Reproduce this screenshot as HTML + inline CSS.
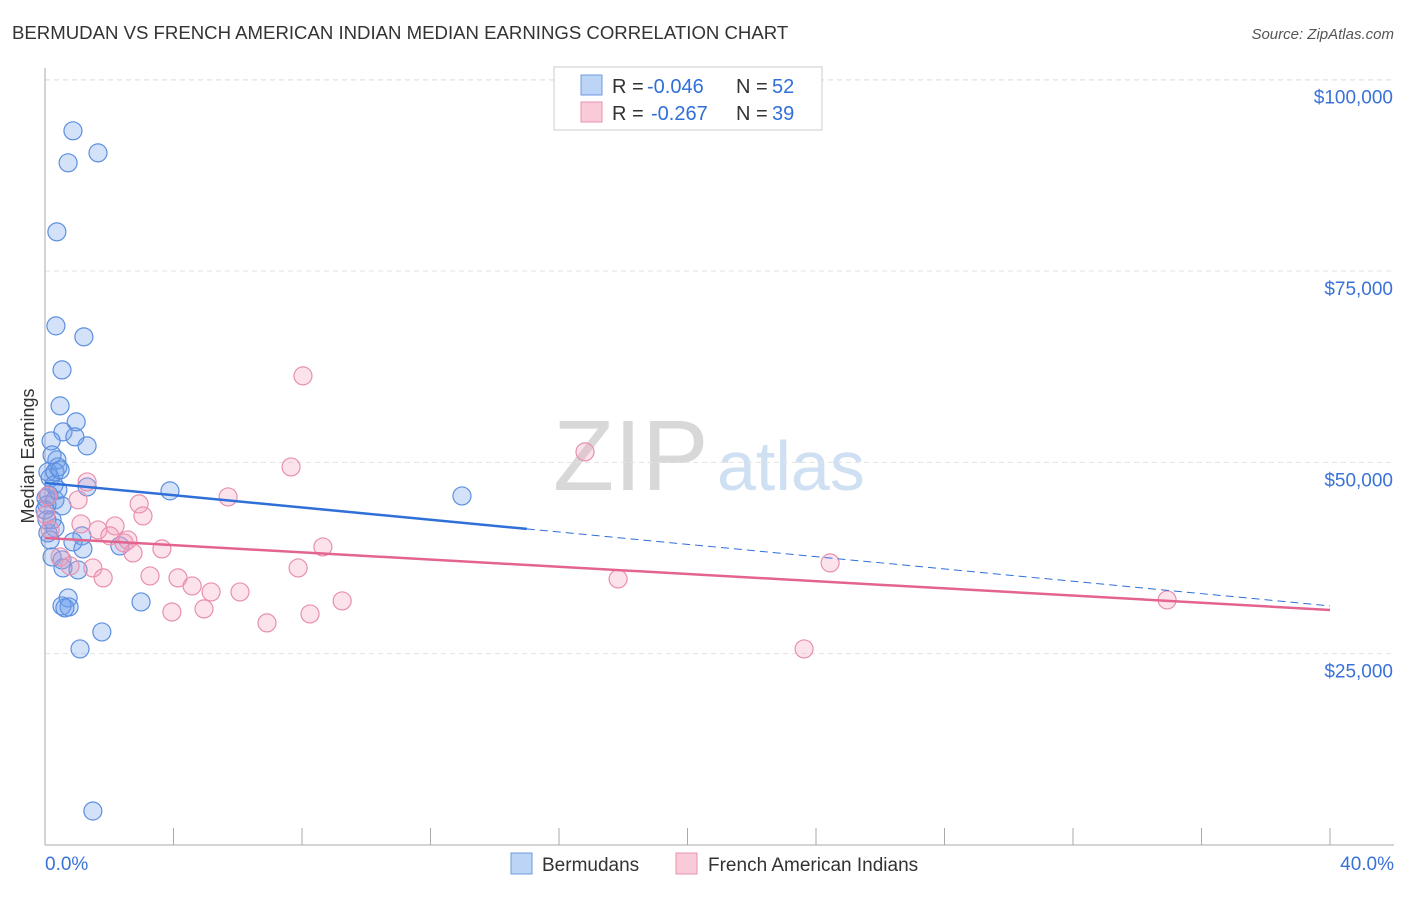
<!DOCTYPE html>
<html><head><meta charset="utf-8"><style>
body{margin:0;background:#fff;font-family:"Liberation Sans",sans-serif;}
svg text{font-family:"Liberation Sans",sans-serif;}
</style></head><body>
<svg id="chart" width="1406" height="892">
<text x="12" y="39" font-size="18.6" fill="#333">BERMUDAN VS FRENCH AMERICAN INDIAN MEDIAN EARNINGS CORRELATION CHART</text>
<text x="1394" y="39" font-size="15" fill="#555" font-style="italic" text-anchor="end">Source: ZipAtlas.com</text>
<text x="34" y="456" font-size="18" fill="#333" transform="rotate(-90 34 456)" text-anchor="middle">Median Earnings</text>
<g>
<text x="553" y="490" font-size="100" fill="#d8d8d8" font-family="Liberation Serif, serif">ZIP</text>
<text x="717" y="490" font-size="70" fill="#cfe0f3">atlas</text>
</g>
<g id="grid"></g><g id="axes"></g><g id="marks"></g>
<g>
<rect x="554" y="67" width="268" height="63" fill="#fff" stroke="#ccc"/>
<rect x="581" y="75" width="21" height="20" fill="#bcd4f6" stroke="#6e9be0"/>
<text x="612" y="93" font-size="20" fill="#333">R =</text>
<text x="647" y="93" font-size="20" fill="#2f6fd8">-0.046</text>
<text x="736" y="93" font-size="20" fill="#333">N =</text>
<text x="772" y="93" font-size="20" fill="#2f6fd8">52</text>
<rect x="581" y="102" width="21" height="20" fill="#f9cbd9" stroke="#e992ae"/>
<text x="612" y="120" font-size="20" fill="#333">R =</text>
<text x="651" y="120" font-size="20" fill="#2f6fd8">-0.267</text>
<text x="736" y="120" font-size="20" fill="#333">N =</text>
<text x="772" y="120" font-size="20" fill="#2f6fd8">39</text>
</g>
<g>
<rect x="511" y="853" width="21" height="21" fill="#bcd4f6" stroke="#6e9be0"/>
<text x="542" y="871" font-size="19" fill="#333">Bermudans</text>
<rect x="676" y="853" width="21" height="21" fill="#f9cbd9" stroke="#e992ae"/>
<text x="708" y="871" font-size="19" fill="#333">French American Indians</text>
</g>
</svg>
<script>
const yTicks=[25000,50000,75000,100000];
const yTickLabels=["$25,000","$50,000","$75,000","$100,000"];
const xTicks=[0,4,8,12,16,20,24,28,32,36,40];
const blueX=[0.87,0.72,1.65,0.37,0.34,1.21,0.53,0.47,0.97,0.56,0.93,1.31,0.19,0.37,0.40,0.16,0.09,0.28,0.12,0.03,0.31,0.53,0.40,1.31,3.89,12.98,0.22,0.31,0.09,1.15,0.87,1.18,2.33,0.22,0.53,0.56,1.03,0.72,0.53,0.75,0.62,2.99,1.77,1.09,1.49,0.06,0.16,0.06,0.31,0.47,0.22,0.0];
const blueY=[93320,89140,90440,80120,67830,66400,62080,57380,55290,53980,53330,52150,52800,50320,49400,47970,48750,47050,45740,45350,45090,44310,46400,46790,46270,45610,42480,41430,40780,40390,39600,38690,39080,37640,37250,36200,35940,32280,31240,31110,30980,31760,27840,25620,4440,42480,39860,44440,48750,49010,50970,43780];
const pinkX=[8.03,16.81,7.66,1.31,1.03,0.09,2.93,5.70,3.05,1.12,2.18,1.65,2.02,2.46,2.58,2.74,3.64,8.65,0.47,0.78,1.49,1.81,3.27,4.14,4.58,5.17,6.07,7.88,24.44,17.84,3.95,4.95,8.25,9.25,6.91,23.63,34.93,0.03,0.16];
const pinkY=[61300,51370,49400,47440,45090,45610,44570,45480,43000,41950,41690,41170,40390,39470,39860,38160,38690,38950,37640,36470,36200,34900,35160,34900,33850,33070,33070,36200,36860,34770,30450,30850,30190,31890,29020,25620,32020,43130,41170];
const blueTrend=[47310,41300,31240];
const blueTrendX=[0,15,40];
const pinkTrend=[40120,30710];
const pinkTrendX=[0,40];
const NS="http://www.w3.org/2000/svg";
const xs=v=>45+v/40*1285;
const ys=v=>845-v/100000*765.3;
function mk(tag,attrs,parent){const e=document.createElementNS(NS,tag);for(const k in attrs)e.setAttribute(k,attrs[k]);document.getElementById(parent).appendChild(e);return e;}
yTicks.forEach((t,i)=>{
 const g=mk('line',{x1:45,x2:1394,y1:ys(t),y2:ys(t),stroke:'#e2e2e2','stroke-dasharray':'5,4'},'grid');
 
 
 const l=mk('text',{x:1393,y:ys(t)+24,'font-size':19,fill:'#3a72d8','text-anchor':'end'},'axes');
 l.textContent=yTickLabels[i];
 
 
});
const topGrid=mk('line',{x1:45,x2:1394,y1:80,y2:80,stroke:'#e2e2e2','stroke-dasharray':'5,4'},'grid');


const ax=mk('line',{x1:45,x2:45,y1:68,y2:845,stroke:'#aaa'},'axes');


const bx=mk('line',{x1:45,x2:1394,y1:845,y2:845,stroke:'#aaa'},'axes');


xTicks.forEach(t=>{const l=mk('line',{x1:xs(t),x2:xs(t),y1:828,y2:845,stroke:'#aaa'},'axes');
 
 });
const x0=mk('text',{x:45,y:870,'font-size':19,fill:'#3a72d8'},'axes');x0.textContent="0.0%";


const x1=mk('text',{x:1394,y:870,'font-size':19,fill:'#3a72d8','text-anchor':'end'},'axes');x1.textContent="40.0%";


blueX.forEach((v,i)=>{const c=mk('circle',{cx:xs(v),cy:ys(blueY[i]),r:9,fill:'rgba(110,160,235,0.3)',stroke:'#5d8fe0','stroke-width':1.2},'marks');
 
 });
pinkX.forEach((v,i)=>{const c=mk('circle',{cx:xs(v),cy:ys(pinkY[i]),r:9,fill:'rgba(245,160,190,0.3)',stroke:'#e890ad','stroke-width':1.2},'marks');
 
 });
const bt=mk('line',{x1:xs(blueTrendX[0]),y1:ys(blueTrend[0]),x2:xs(blueTrendX[1]),y2:ys(blueTrend[1]),stroke:'#2f6fd8','stroke-width':2.5},'marks');


const bd=mk('line',{x1:xs(blueTrendX[1]),y1:ys(blueTrend[1]),x2:xs(blueTrendX[2]),y2:ys(blueTrend[2]),stroke:'#2f6fd8','stroke-width':1,'stroke-dasharray':'8,5'},'marks');


const pt=mk('line',{x1:xs(pinkTrendX[0]),y1:ys(pinkTrend[0]),x2:xs(pinkTrendX[1]),y2:ys(pinkTrend[1]),stroke:'#e3648f','stroke-width':2.5},'marks');


</script>
</body></html>
